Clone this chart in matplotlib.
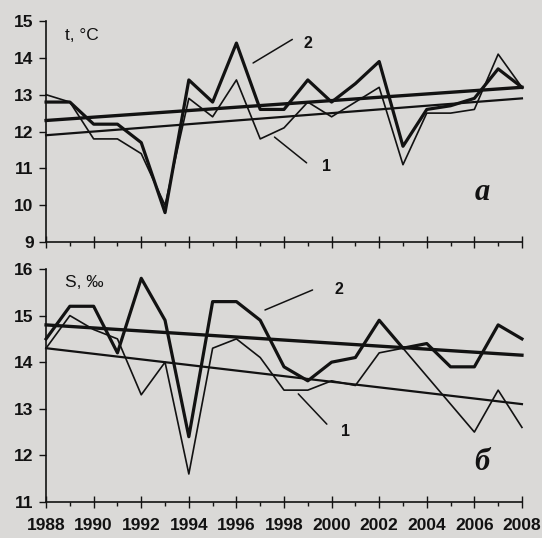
import matplotlib.pyplot as plt
import numpy as np

years = np.arange(1988, 2009)

# a) temperature, deg C
temp_1 = [13.0, 12.8, 11.8, 11.8, 11.4, 10.0, 12.9, 12.4, 13.4, 11.8, 12.1,
          12.8, 12.4, 12.8, 13.2, 11.1, 12.5, 12.5, 12.6, 14.1, 13.2]
temp_2 = [12.8, 12.8, 12.2, 12.2, 11.7, 9.8, 13.4, 12.8, 14.4, 12.6, 12.6,
          13.4, 12.8, 13.3, 13.9, 11.6, 12.6, 12.7, 12.9, 13.7, 13.2]
temp_trend_1 = [11.9, 12.9]
temp_trend_2 = [12.3, 13.2]

# b) salinity, permille
sal_1 = [14.3, 15.0, 14.7, 14.5, 13.3, 14.0, 11.6, 14.3, 14.5, 14.1, 13.4,
         13.4, 13.6, 13.5, 14.2, 14.3, 13.7, 13.1, 12.5, 13.4, 12.6]
sal_2 = [14.5, 15.2, 15.2, 14.2, 15.8, 14.9, 12.4, 15.3, 15.3, 14.9, 13.9,
         13.6, 14.0, 14.1, 14.9, 14.3, 14.4, 13.9, 13.9, 14.8, 14.5]
sal_trend_1 = [14.3, 13.1]
sal_trend_2 = [14.8, 14.15]

bg = '#dad9d7'
ink = '#121212'
plt.rcParams['font.family'] = ['Liberation Sans', 'DejaVu Sans']

fig = plt.figure(figsize=(5.42, 5.38), dpi=100, facecolor=bg)
ax_t = fig.add_axes([0.085, 0.550, 0.878, 0.411])
ax_s = fig.add_axes([0.085, 0.067, 0.878, 0.433])


def style(ax, ylim, labels):
    ax.set_facecolor(bg)
    ax.set_xlim(1988, 2008)
    ax.set_ylim(*ylim)
    for side in ['top', 'right']:
        ax.spines[side].set_visible(False)
    for side in ['left', 'bottom']:
        ax.spines[side].set_color(ink)
        ax.spines[side].set_linewidth(1.2)
    ax.set_xticks(range(1988, 2009, 2))
    ax.set_xticks(range(1989, 2009, 2), minor=True)
    ax.set_yticks(range(ylim[0], ylim[1] + 1))
    ax.tick_params(axis='x', which='major', direction='inout', length=9, width=1, color=ink)
    ax.tick_params(axis='x', which='minor', direction='out', length=3, width=1, color=ink)
    ax.tick_params(axis='y', direction='out', length=5, width=1, color=ink, pad=4)
    for lab in ax.get_yticklabels():
        lab.set_fontsize(12.5)
        lab.set_fontweight('bold')
        lab.set_color(ink)
    if labels:
        ax.tick_params(axis='x', pad=7)
        for lab in ax.get_xticklabels():
            lab.set_fontsize(12.5)
            lab.set_fontweight('bold')
            lab.set_color(ink)
    else:
        ax.set_xticklabels([])


def panel(ax, s1, s2, tr1, tr2):
    ends = [years[0], years[-1]]
    ax.plot(years, s1, color=ink, lw=1.2, clip_on=False)
    ax.plot(years, s2, color=ink, lw=2.3, clip_on=False)
    ax.plot(ends, tr1, color=ink, lw=1.6, clip_on=False)
    ax.plot(ends, tr2, color=ink, lw=2.4, clip_on=False)


def leader(ax, text, xy, xyt, txt_pos):
    ax.annotate('', xy=xy, xytext=xyt,
                arrowprops=dict(arrowstyle='-', color=ink, lw=1.1, shrinkA=0, shrinkB=0))
    ax.text(*txt_pos, text, fontsize=11.5, fontweight='bold', color=ink,
            ha='center', va='center')


panel(ax_t, temp_1, temp_2, temp_trend_1, temp_trend_2)
style(ax_t, (9, 15), False)
ax_t.text(1988.8, 14.6, 't, °C', fontsize=12.5, color=ink, va='center')
leader(ax_t, '2', (1996.7, 13.86), (1998.35, 14.5), (1999.0, 14.4))
leader(ax_t, '1', (1997.6, 11.85), (1998.95, 11.15), (1999.8, 11.05))
ax_t.text(2006.35, 10.35, 'a', fontsize=22, family='Liberation Serif',
          style='italic', fontweight='bold', color=ink, ha='center', va='center')

panel(ax_s, sal_1, sal_2, sal_trend_1, sal_trend_2)
style(ax_s, (11, 16), True)
ax_s.text(1988.8, 15.72, 'S, ‰', fontsize=12.5, color=ink, va='center')
leader(ax_s, '2', (1997.2, 15.12), (1999.2, 15.55), (2000.3, 15.57))
leader(ax_s, '1', (1998.6, 13.32), (1999.8, 12.67), (2000.6, 12.52))
ax_s.text(2006.3, 11.85, 'б', fontsize=22, family='Liberation Serif',
          style='italic', fontweight='bold', color=ink, ha='center', va='center')

fig.savefig('out.png', dpi=100, facecolor=bg)
